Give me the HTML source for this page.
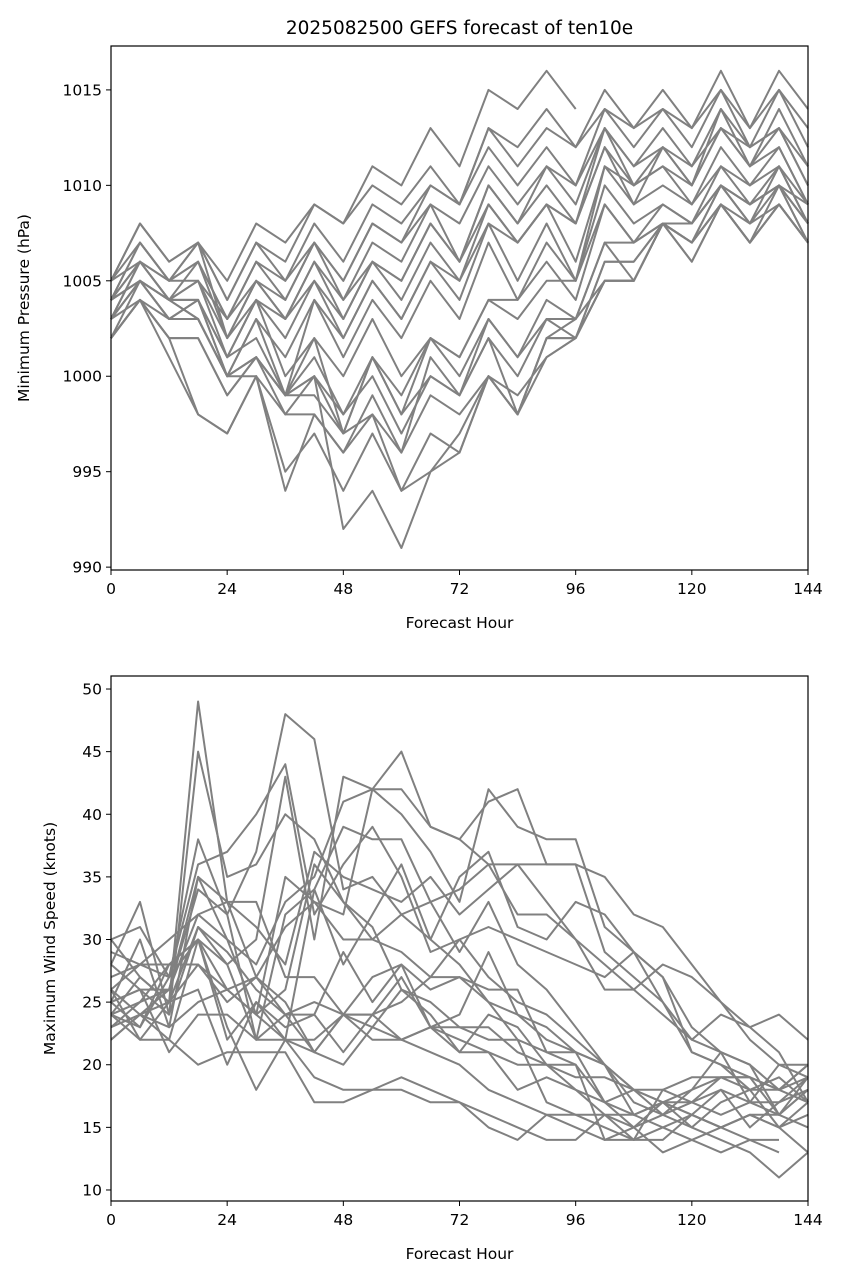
<!DOCTYPE html>
<html><head><meta charset="utf-8">
<style>
body{margin:0;background:#fff;}
svg text{font-family:"DejaVu Sans","Liberation Sans",sans-serif;fill:#000;}
</style></head>
<body>
<svg id="chart" width="843" height="1279" xmlns="http://www.w3.org/2000/svg"></svg>
<script>
const hours = [0,6,12,18,24,30,36,42,48,54,60,66,72,78,84,90,96,102,108,114,120,126,132,138,144];
const xTicks = [0,24,48,72,96,120,144];
const pTicks = [990,995,1000,1005,1010,1015];
const wTicks = [10,15,20,25,30,35,40,45,50];
const pressureSeries = [
[1005,1008,1006,1007,1005,1008,1007,1009,1008,1011,1010,1013,1011,1015,1014,1016,1014,null,null,null,null,null,null,null,null],
[1005,1008,1006,1007,1004,1007,1006,1009,1008,1010,1009,1011,1009,1013,1012,1014,1012,1015,1013,1015,1013,1016,1013,1016,1014],
[1004,1007,1005,1007,1004,1007,1005,1008,1006,1009,1008,1010,1009,1013,1011,1013,1012,1014,1013,1014,1012,1015,1013,1015,1013],
[1004,1007,1005,1006,1003,1006,1004,1007,1005,1008,1007,1010,1009,1012,1010,1012,1010,1014,1012,1014,1013,1015,1012,1015,1012],
[1004,1006,1005,1006,1003,1006,1005,1007,1005,1008,1007,1009,1008,1011,1009,1011,1010,1013,1011,1013,1011,1014,1011,1014,1011],
[1003,1006,1004,1006,1002,1005,1004,1007,1004,1007,1006,1009,1006,1010,1008,1011,1009,1013,1011,1012,1010,1014,1012,1013,1011],
[1003,1006,1004,1005,1002,1005,1003,1006,1004,1006,1005,1008,1006,1010,1008,1010,1008,1013,1010,1012,1011,1013,1012,1013,1010],
[1003,1005,1004,1005,1001,1004,1003,1006,1003,1006,1005,1008,1006,1009,1007,1009,1008,1012,1010,1011,1010,1013,1011,1012,1009],
[1003,1005,1004,1004,1001,1004,1002,1005,1003,1006,1004,1007,1005,1008,1007,1009,1006,1011,1010,1011,1009,1012,1010,1012,1009],
[1002,1005,1003,1004,1000,1003,1001,1004,1002,1005,1003,1006,1004,1008,1005,1008,1005,1011,1009,1010,1009,1011,1010,1011,1008],
[1002,1004,1003,1003,1000,1003,999,1004,1001,1004,1002,1005,1003,1007,1004,1007,1005,1010,1008,1009,1008,1010,1009,1010,1007],
[1002,1004,1002,1002,999,1001,999,1002,1000,1003,1000,1002,1001,1004,1004,1006,1004,1009,1007,1008,1007,1010,1008,1010,1007],
[1003,1004,1002,1002,999,1001,999,1001,998,1001,999,1002,1000,1003,1001,1004,1003,1007,1007,1008,1006,1009,1007,1009,1007],
[1004,1005,1003,1004,1000,1000,998,1000,997,1001,998,1000,999,1003,1001,1003,1003,1007,1005,1008,1007,1009,1007,1009,1007],
[1005,1006,1004,1004,1001,1002,999,1000,998,1000,997,1000,999,1002,998,1002,1003,1005,1005,1008,1007,1009,1008,1009,1007],
[1002,1004,1002,998,997,1000,994,998,996,999,996,999,998,1000,998,1002,1002,1005,1005,1008,1006,1009,1007,1010,1008],
[1002,1004,1001,998,997,1000,995,997,994,997,994,997,996,1000,998,1001,1002,1005,1005,1008,1007,1010,1008,1011,1009],
[1003,1005,1003,1003,1000,1001,998,998,996,998,996,1001,999,1002,1000,1003,1002,1006,1006,1008,1008,1010,1009,1010,1008],
[1004,1005,1004,1003,1000,1001,999,999,997,998,994,995,996,1000,999,1001,1002,1006,1006,1008,1008,1010,1009,1010,1009],
[1004,1005,1004,1003,1000,1001,999,1000,992,994,991,995,997,1000,998,1002,1002,1005,1005,1008,1007,1009,1007,1009,1007],
[1005,1007,1005,1007,1002,1004,1000,1002,997,1001,998,1002,1001,1004,1003,1005,1005,1009,1007,1009,1008,1011,1009,1011,1008],
[1004,1006,1005,1005,1003,1005,1003,1005,1002,1005,1003,1006,1005,1009,1007,1009,1008,1012,1009,1012,1010,1013,1011,1013,1010]
];
const windSeries = [
[24,27,25,49,33,33,27,27,24,23,22,21,20,18,17,16,15,14,15,13,14,15,16,15,13],
[25,26,24,45,35,36,40,38,33,31,26,25,23,23,21,20,18,17,15,16,15,14,13,11,13],
[26,28,27,38,32,37,48,46,34,35,32,30,28,25,24,23,21,20,18,17,16,15,14,13,null],
[30,31,27,36,37,40,44,32,36,39,35,29,30,27,25,24,22,20,18,18,17,16,17,17,18],
[28,33,24,31,28,30,43,30,43,42,45,39,38,36,36,33,30,28,26,24,22,21,20,18,19],
[25,30,23,35,30,28,33,35,41,42,42,39,38,41,42,36,36,29,27,25,21,20,18,18,17],
[27,28,30,32,33,27,31,33,32,42,40,37,33,42,39,38,38,31,29,27,23,21,20,16,18],
[24,25,26,35,33,31,28,37,35,34,33,35,32,34,36,36,36,35,32,31,28,25,23,21,17],
[22,24,26,32,30,24,26,36,33,30,32,33,34,36,32,32,30,26,26,28,27,25,22,20,19],
[23,25,28,30,26,24,35,33,30,30,29,27,30,31,30,29,28,27,29,25,22,24,23,24,22],
[25,23,27,30,28,22,32,34,28,32,36,30,35,37,31,30,33,32,29,27,21,20,19,18,20],
[26,24,22,30,23,18,22,34,39,38,38,33,29,33,28,26,23,20,17,16,18,19,19,18,20],
[26,22,25,28,25,27,24,24,29,25,28,23,24,29,24,22,21,17,18,17,15,17,18,19,17],
[24,23,28,28,26,27,25,21,24,24,25,27,27,26,26,21,20,17,16,17,16,15,16,16,19],
[23,24,25,26,20,25,22,21,24,24,22,23,21,21,18,19,18,16,16,17,17,19,18,15,17],
[24,22,22,20,21,21,21,17,17,18,19,18,17,16,15,14,14,16,15,17,18,21,17,20,20],
[22,24,23,25,26,24,22,19,18,18,18,17,17,15,14,16,16,16,14,14,16,15,16,15,16],
[25,26,21,24,24,22,24,21,20,23,26,24,21,24,23,20,19,19,18,16,17,18,17,16,15],
[28,26,26,34,32,22,22,22,24,22,22,23,22,21,20,20,20,14,14,18,19,19,19,16,18],
[29,28,28,30,22,25,23,24,21,24,27,23,23,22,22,17,16,15,14,15,16,18,15,17,19],
[30,27,25,31,29,26,24,25,24,27,28,26,27,25,22,21,21,20,16,15,14,13,14,14,null]
];

const NS="http://www.w3.org/2000/svg";
const svg=document.getElementById('chart');
function mk(tag,attrs,parent){const e=document.createElementNS(NS,tag);for(const k in attrs)e.setAttribute(k,attrs[k]);(parent||svg).appendChild(e);return e;}

function panel(cfg){
  const g=mk('g',{});
  
  
  const L=111,R=808,T=cfg.top,B=cfg.bottom;
  const x=h=>L+(h-0)/(144-0)*(R-L);
  const y=v=>B-(v-cfg.ymin)/(cfg.ymax-cfg.ymin)*(B-T);
  cfg.series.forEach((s,i)=>{
    let d='';let pen=false;
    s.forEach((v,j)=>{ if(v===null){pen=false;return;} d+=(pen?'L':'M')+x(hours[j]).toFixed(1)+' '+y(v).toFixed(1)+' '; pen=true;});
    const p=mk('path',{d:d,fill:'none',stroke:'#808080','stroke-width':'2','stroke-linejoin':'round'},g);
    
    
  });
  const box=mk('rect',{x:L,y:T,width:R-L,height:B-T,fill:'none',stroke:'#000','stroke-width':'1.2'},g);
  
  
  xTicks.forEach(t=>{
    mk('line',{x1:x(t),x2:x(t),y1:B,y2:B+5,stroke:'#000'},g);
    const tx=mk('text',{x:x(t),y:B+24,'font-size':'15.5','text-anchor':'middle'},g);
    tx.textContent=t;
    
    
  });
  cfg.yticks.forEach(t=>{
    mk('line',{x1:L-5,x2:L,y1:y(t),y2:y(t),stroke:'#000'},g);
    const tx=mk('text',{x:L-9,y:y(t)+5.5,'font-size':'15.5','text-anchor':'end'},g);
    tx.textContent=t;
    
    
  });
  const xl=mk('text',{x:(L+R)/2,y:B+58,'font-size':'15.5','text-anchor':'middle'},g);
  xl.textContent='Forecast Hour';
  
  
  const yl=mk('text',{x:0,y:0,'font-size':'15.5','text-anchor':'middle',transform:`translate(${cfg.ylx},${(T+B)/2}) rotate(-90)`},g);
  yl.textContent=cfg.ylabel;
  
  
}
panel({name:'pressure-panel',lineName:'pressure-member',top:46,bottom:570,ymin:989.85,ymax:1017.3,series:pressureSeries,yticks:pTicks,ylabel:'Minimum Pressure (hPa)',ylx:29});
panel({name:'wind-panel',lineName:'wind-member',top:676,bottom:1201,ymin:9.12,ymax:51.04,series:windSeries,yticks:wTicks,ylabel:'Maximum Wind Speed (knots)',ylx:55});
const title=mk('text',{x:459.5,y:34,'font-size':'18.5','text-anchor':'middle'});
title.textContent='2025082500 GEFS forecast of ten10e';


</script>
</body></html>
